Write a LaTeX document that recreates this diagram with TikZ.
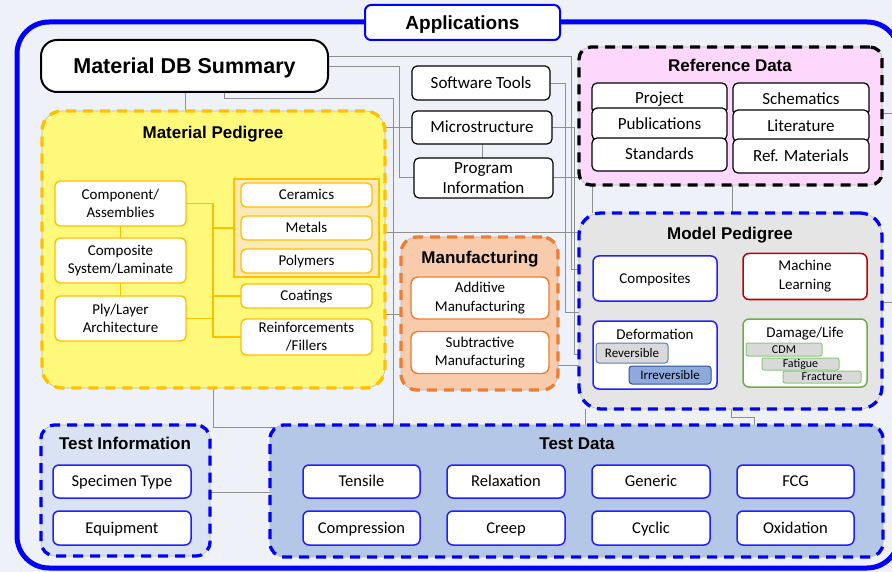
\documentclass[tikz,border=0pt]{standalone}
\usepackage{fontspec}
\setmainfont{Carlito}
\newfontfamily\arialfont{Liberation Sans}
\definecolor{bgc}{HTML}{EFF1F8}
\definecolor{frameblue}{HTML}{0000FF}
\definecolor{conn}{HTML}{8F8F8F}
\definecolor{mpfill}{HTML}{FFF97B}
\definecolor{mpgold}{HTML}{FFC000}
\definecolor{grpfill}{HTML}{FDE9B5}
\definecolor{mffill}{HTML}{F8CBAD}
\definecolor{mforange}{HTML}{ED7D31}
\definecolor{modfill}{HTML}{E5E5E5}
\definecolor{reffill}{HTML}{FDD8FC}
\definecolor{tifill}{HTML}{DAE3F3}
\definecolor{tdfill}{HTML}{B4C7E7}
\definecolor{itemblue}{HTML}{1F1FFF}
\definecolor{mlred}{HTML}{C00000}
\definecolor{dlgreen}{HTML}{70AD47}
\definecolor{revfill}{HTML}{D9D9D9}
\definecolor{revdraw}{HTML}{5A7DB5}
\definecolor{irrfill}{HTML}{8EA9DB}
\definecolor{irrdraw}{HTML}{2F5597}
\definecolor{subgreen}{HTML}{8CC97A}
\pgfdeclarelayer{bgl}
\pgfdeclarelayer{lines}
\pgfsetlayers{bgl,lines,main}
\tikzset{
  sz/.style 2 args={minimum width=#1pt, minimum height=#2pt, inner sep=0pt, outer sep=0pt},
  ttl/.style={font=\arialfont\bfseries\fontsize{17}{20}\selectfont, inner sep=0pt, text height=15.3pt, text depth=2.7pt},
  cs/.style={text height=13.6pt, text depth=2.7pt},
  cf/.style={text height=12pt, text depth=2.4pt},
  blk/.style={draw=black, line width=1.2pt, fill=white, rounded corners=5pt, font=\fontsize{17}{20}\selectfont, align=center},
  mpitem/.style={draw=mpgold, line width=1.4pt, fill=white, rounded corners=5pt, font=\fontsize{15}{18}\selectfont, align=center},
  grp/.style={draw=mpgold, line width=1.2pt, fill=grpfill},
  mfitem/.style={draw=mforange, line width=1.4pt, fill=white, rounded corners=7pt, font=\fontsize{15}{18.5}\selectfont, align=center},
  mditem/.style={line width=1.5pt, fill=white, rounded corners=6pt, font=\fontsize{15}{19}\selectfont, align=center},
  revbox/.style={draw=revdraw, line width=1pt, fill=revfill, rounded corners=3pt, font=\fontsize{13}{15}\selectfont, text height=10.4pt, text depth=2.1pt},
  irrbox/.style={draw=irrdraw, line width=1pt, fill=irrfill, rounded corners=3pt, font=\fontsize{13}{15}\selectfont, text height=10.4pt, text depth=2.1pt},
  subbox/.style={draw=subgreen, line width=1pt, fill=revfill, rounded corners=2pt, font=\fontsize{12}{14}\selectfont, text height=9.6pt, text depth=1.9pt},
  tbox/.style={draw=itemblue, line width=1.5pt, fill=white, rounded corners=6pt, font=\fontsize{16.5}{19}\selectfont, text height=13.2pt, text depth=2.6pt},
  plain/.style={inner sep=0pt, font=\fontsize{15}{18}\selectfont, cf},
  cont/.style n args={3}{fill=#1, draw=gray!55, line width=0.6pt, rounded corners=#3,
     postaction={draw=#2, line width=3.3pt, dash pattern=on 10pt off 7pt}},
  cn/.style={draw=conn, line width=0.9pt},
  oc/.style={draw=mpgold, line width=1.5pt},
}
\begin{document}
\begin{tikzpicture}[x=1pt, y=-1pt]
\useasboundingbox (0,0) rectangle (892,572);
\begin{pgfonlayer}{bgl}
\fill[bgc] (0,0) rectangle (892,572);
\draw[frameblue, line width=5pt, rounded corners=32pt] (17,22) rectangle (899,568);
\end{pgfonlayer}

% title and top
\node[draw=frameblue, line width=2pt, fill=white, rounded corners=6pt, sz={195}{35},
      font=\arialfont\bfseries\fontsize{19}{22}\selectfont, text height=17.1pt, text depth=3pt] (apps) at (462.5,22.5) {Applications};
\node[draw=black, line width=2pt, fill=white, rounded corners=16pt, sz={287}{52},
      font=\arialfont\bfseries\fontsize{21.5}{24}\selectfont, text height=19.35pt, text depth=3.4pt] (db) at (184.5,66) {Material DB Summary};
\node[blk, cs, sz={138}{34}] (sw) at (481,83) {Software Tools};
\node[blk, cs, sz={140}{33}] (micro) at (482,127.5) {Microstructure};
\node[blk, sz={139}{40}] (prog) at (483.5,178) {Program\\Information};

% Material Pedigree
\node[cont={mpfill}{mpgold}{20pt}, sz={343}{277}] (matped) at (213.5,249.5) {};
\node[ttl] (matpedt) at (213,132) {Material Pedigree};
\node[grp, sz={145}{98}] (grp) at (306.5,228) {};
\node[mpitem, sz={131}{45}] (comp) at (120.5,203.5) {Component/\\Assemblies};
\node[mpitem, sz={131}{45}] (csys) at (120.5,260.5) {Composite\\System/Laminate};
\node[mpitem, sz={131}{45}] (ply) at (120.5,318.5) {Ply/Layer\\Architecture};
\node[mpitem, cf, sz={131}{24}] (cer) at (306.5,195) {Ceramics};
\node[mpitem, cf, sz={131}{24}] (met) at (306.5,228) {Metals};
\node[mpitem, cf, sz={131}{24}] (pol) at (306.5,261) {Polymers};
\node[mpitem, cf, sz={131}{24}] (coat) at (306.5,296) {Coatings};
\node[mpitem, sz={131}{36}] (reinf) at (306.5,337) {Reinforcements\\/Fillers};
\coordinate (tk) at (213,0);
\draw[oc] (comp.east) -| (reinf.west -| tk) -- (reinf.west);
\draw[oc] (grp.west -| tk) -- (grp.west);
\draw[oc] (coat.west -| tk) -- (coat.west);
\draw[oc] (ply.east) -- (ply.east -| tk);
\draw[oc] (comp.south) -- (csys.north);
\draw[oc] (csys.south) -- (ply.north);

% Manufacturing
\node[cont={mffill}{mforange}{16pt}, sz={157}{153}] (manu) at (479.5,313.5) {};
\node[ttl] (manut) at (480,257) {Manufacturing};
\node[mfitem, sz={138}{42}] (addm) at (480,298) {Additive\\Manufacturing};
\node[mfitem, sz={138}{42}] (subm) at (480,352.5) {Subtractive\\Manufacturing};

% Model Pedigree
\node[cont={modfill}{frameblue}{22pt}, sz={303}{196}] (modped) at (730.5,311) {};
\node[ttl] (modpedt) at (730,233) {Model Pedigree};
\node[mditem, cf, draw=itemblue, sz={124}{45}] (compo) at (655,278.5) {Composites};
\node[mditem, draw=mlred, sz={124}{46}] (ml) at (805,276.5) {Machine\\Learning};
\node[mditem, draw=itemblue, sz={124}{68}] (defo) at (655,355) {};
\node[plain] (defot) at (655,335) {Deformation};
\node[revbox, sz={72}{20}] (rev) at (632,353) {Reversible};
\node[irrbox, sz={82}{18}] (irr) at (670,375) {Irreversible};
\node[mditem, draw=dlgreen, sz={124}{68}] (dmg) at (805,353) {};
\node[plain] (dmgt) at (805,333) {Damage/Life};
\node[subbox, sz={76}{13}] (cdm) at (784,349.5) {CDM};
\node[subbox, sz={77}{12}] (fat) at (800.5,364) {Fatigue};
\node[subbox, sz={78}{12}] (frac) at (822,377) {Fracture};

% Reference Data
\node[cont={reffill}{black}{12pt}, sz={303}{138}] (refd) at (730.5,116) {};
\node[ttl] (refdt) at (730,65) {Reference Data};
\node[blk, cs, sz={135}{31}] (proj) at (659.5,98.5) {Project};
\node[blk, cs, sz={135}{32}] (pub) at (659.5,124) {Publications};
\node[blk, cs, sz={135}{33}] (std) at (659.5,154.5) {Standards};
\node[blk, cs, sz={136}{33}] (sch) at (801,99.5) {Schematics};
\node[blk, cs, sz={136}{32}] (lit) at (801,126) {Literature};
\node[blk, cs, sz={136}{34}] (refm) at (801,156) {Ref. Materials};

% Test Information
\node[cont={tifill}{frameblue}{14pt}, sz={169}{131}] (tinfo) at (125.5,490.5) {};
\node[ttl] (tinfot) at (125,443) {Test Information};
\node[tbox, sz={138}{33}] (spec) at (122,481.5) {Specimen Type};
\node[tbox, sz={138}{34}] (equip) at (122,528) {Equipment};

% Test Data
\node[cont={tdfill}{frameblue}{14pt}, sz={613}{132}] (tdata) at (576.5,491) {};
\node[ttl] (tdatat) at (577,443) {Test Data};
\node[tbox, sz={117}{33}] (tens) at (361.5,481.5) {Tensile};
\node[tbox, sz={118}{33}] (relax) at (506,481.5) {Relaxation};
\node[tbox, sz={118}{33}] (gen) at (651,481.5) {Generic};
\node[tbox, sz={117}{33}] (fcg) at (795.5,481.5) {FCG};
\node[tbox, sz={117}{34}] (compr) at (361.5,528) {Compression};
\node[tbox, sz={118}{34}] (creep) at (506,528) {Creep};
\node[tbox, sz={118}{34}] (cyc) at (651,528) {Cyclic};
\node[tbox, sz={117}{34}] (oxi) at (795.5,528) {Oxidation};

% connectors
\coordinate (e1) at (892,113);
\coordinate (e2) at (892,302);
\begin{pgfonlayer}{lines}
\draw[cn] (db.east |- 0,56) -| (571,269) -- (modped.west |- 0,269);
\draw[cn] (db.east) -| (399,177) -- (prog.west |- 0,177);
\draw[cn] (db.south -| 185,0) -- (matped.north -| 185,0);
\draw[cn] (db.south -| 224,0) |- (393,98) -- (tdata.north -| 393,0);
\draw[cn] (matped.east |- micro.west) -- (micro.west);
\draw[cn] (micro.south) -- (micro.south |- prog.north);
\draw[cn] (sw.east) -| (565,312) -- (modped.west |- 0,312);
\draw[cn] (micro.east) -| (574,354) -- (modped.west |- 0,354);
\draw[cn] (prog.east |- 0,177) -- (refd.west |- 0,177);
\draw[cn] (matped.east |- 0,232) -- (modped.west |- 0,232);
\draw[cn] (matped.east |- 0,314) -- (manu.west |- 0,314);
\draw[cn] (manu.east |- 0,365) -- (modped.west |- 0,365);
\draw[cn] (refd.south -| 592,0) -- (modped.north -| 592,0);
\draw[cn] (refd.south -| 732,0) -- (modped.north -| 732,0);
\draw[cn] (modped.south -| 585,0) -- (tdata.north -| 585,0);
\draw[cn] (modped.south -| 731,0) |- (754,417) -- (tdata.north -| 754,0);
\draw[cn] (refd.east |- 0,113) -- (e1);
\draw[cn] (modped.east |- 0,302) -- (e2);
\draw[cn] (matped.south -| 213,0) |- ([xshift=10pt]tdata.west |- 0,427);
\draw[cn] (tinfo.east |- 0,492) -- (tdata.west |- 0,492);
\end{pgfonlayer}
\end{tikzpicture}
\end{document}
